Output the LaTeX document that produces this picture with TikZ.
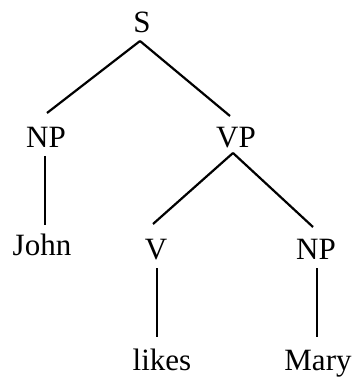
\documentclass[tikz,border=0pt]{standalone}
\usepackage{fontspec}
\setmainfont{Liberation Serif}
\begin{document}
\begin{tikzpicture}[x=1pt,y=-1pt,
  lab/.style={anchor=base,inner sep=0pt,font=\fontsize{31}{37}\selectfont},
  edge/.style={line width=2.2pt}]
\useasboundingbox[fill=white] (0,0) rectangle (355,379);
\node[lab] (S) at (142,33) {S};
\node[lab] (NP1) at (46,148) {NP};
\node[lab] (VP) at (236,148) {VP};
\node[lab] (John) at (42,255) {John};
\node[lab] (V) at (156,259) {V};
\node[lab] (NP2) at (316,259) {NP};
\node[lab] (likes) at (162,370) {likes};
\node[lab] (Mary) at (318,370) {Mary};
\draw[edge] ([shift={(-2pt,-8pt)}]S.base) -- ([shift={(1pt,35pt)}]NP1.base);
\draw[edge] ([shift={(-2pt,-8pt)}]S.base) -- ([shift={(-6pt,32pt)}]VP.base);
\draw[edge] ([shift={(-1pt,-8pt)}]NP1.base) -- ([shift={(3pt,30pt)}]John.base);
\draw[edge] ([shift={(-3pt,-5pt)}]VP.base) -- ([shift={(-3pt,35pt)}]V.base);
\draw[edge] ([shift={(-3pt,-5pt)}]VP.base) -- ([shift={(-3pt,32pt)}]NP2.base);
\draw[edge] ([shift={(1pt,-9pt)}]V.base) -- ([shift={(-5pt,33pt)}]likes.base);
\draw[edge] ([shift={(1pt,-9pt)}]NP2.base) -- ([shift={(-1pt,33pt)}]Mary.base);
\end{tikzpicture}
\end{document}
